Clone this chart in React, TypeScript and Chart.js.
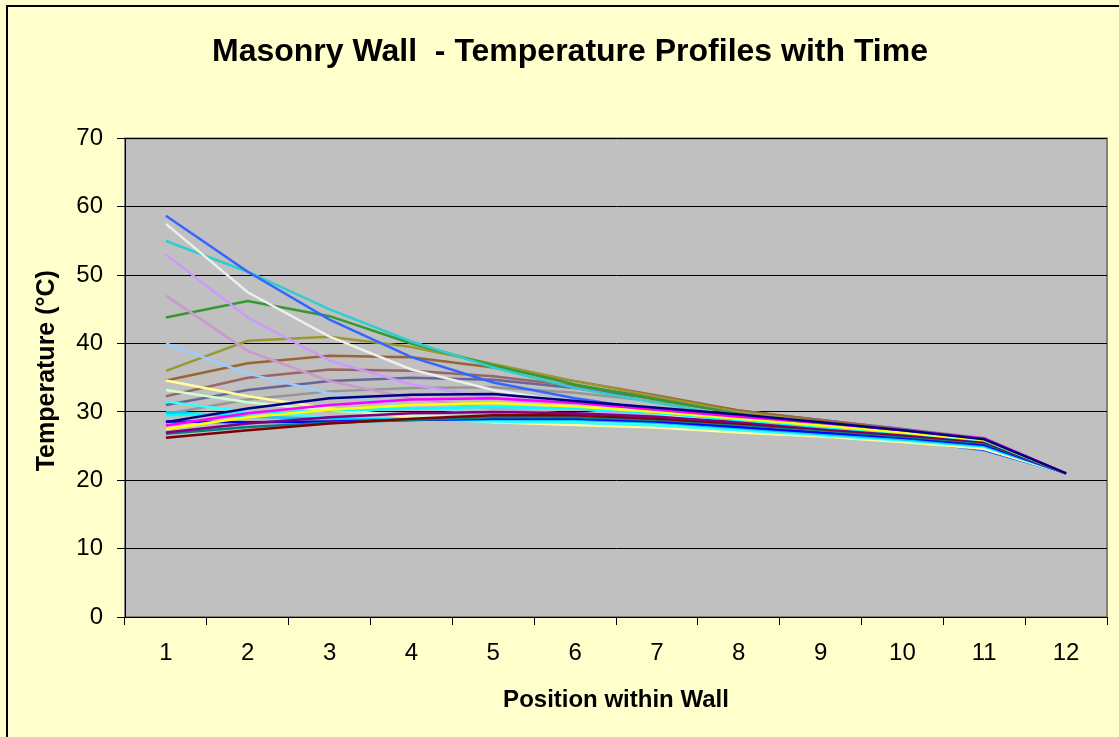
import React, { useEffect, useRef } from "react";
import { Chart, registerables } from "chart.js";

Chart.register(...registerables);

const positions = ["1", "2", "3", "4", "5", "6", "7", "8", "9", "10", "11", "12"];
const yTicks = [0, 10, 20, 30, 40, 50, 60, 70];

const navySeries = [28.5, 30.5, 32, 32.5, 32.6, 31.6, 30.6, 29.6, 28.5, 27.3, 26.0, 21];
const magentaSeries = [28, 29.8, 31, 31.8, 32, 31.3, 30.3, 29.3, 28.4, 27.3, 26.1, 21];
const yellowSeries = [27.5, 29.2, 30.3, 31, 31.3, 30.8, 30, 29, 28, 27, 25.9, 21];
const cyanSeries = [29.5, 29.8, 30.2, 30.5, 30.7, 30.5, 29.8, 28.8, 27.8, 26.9, 25.8, 21];
const purpleSeries = [27, 28.3, 29.2, 29.8, 30, 29.8, 29.3, 28.5, 27.6, 26.7, 25.7, 21];
const darkRedSeries = [26.2, 27.3, 28.3, 29, 29.5, 29.5, 29, 28.3, 27.5, 26.6, 25.6, 21];
const tealSeries = [26.8, 27.8, 28.4, 28.8, 29.2, 29.2, 28.8, 28.1, 27.3, 26.4, 25.4, 21];
const blueSeries = [28.6, 28.5, 28.6, 28.8, 29, 29, 28.6, 27.8, 27, 26.2, 25.2, 21];
const skySeries = [30, 29.3, 29, 28.9, 28.9, 28.8, 28.4, 27.6, 26.8, 26, 25, 21];
const aquaSeries = [31.5, 30, 29.2, 28.8, 28.6, 28.4, 28, 27.3, 26.6, 25.8, 24.9, 21];
const paleGreenSeries = [33.2, 31.4, 30.2, 29.5, 29, 28.7, 28.2, 27.5, 26.7, 25.9, 24.9, 21];
const lightYellowSeries = [34.6, 32.3, 30.5, 29.2, 28.5, 28.1, 27.7, 27.0, 26.4, 25.6, 24.6, 21];
const paleBlueSeries = [40, 35.6, 32.7, 30.8, 29.6, 28.8, 28.2, 27.3, 26.5, 25.7, 24.7, 21];
const plumSeries = [47, 38.9, 34.5, 32, 30.5, 29.6, 28.7, 27.7, 26.8, 25.9, 24.8, 21];
const lavenderSeries = [53, 43.8, 37.5, 34, 32, 30.5, 29.2, 28, 27, 26, 24.7, 21];
const whiteSeries = [57.5, 47.5, 41, 36.2, 33.2, 31.3, 29.8, 28.3, 27.1, 26, 24.6, 21];
const royalBlueSeries = [58.7, 50.5, 43.5, 38, 34.3, 32, 30.2, 28.6, 27.2, 25.9, 24.4, 21];
const turquoiseSeries = [55, 50.5, 45, 40.3, 36.5, 33.5, 31.3, 29.3, 27.8, 26.4, 24.8, 21];
const greenSeries = [43.8, 46.2, 44, 40, 36.8, 34, 31.8, 29.7, 28.1, 26.7, 25.1, 21];
const oliveSeries = [36, 40.4, 41, 39.5, 37, 34.5, 32.2, 30, 28.5, 27.1, 25.4, 21];
const brownSeries = [34.6, 37.1, 38.2, 38, 36.5, 34.5, 32.4, 30.2, 28.7, 27.3, 25.7, 21];
const mauveSeries = [32.3, 35, 36.2, 36, 35.2, 33.8, 32.1, 30.2, 28.8, 27.4, 25.9, 21];
const slateSeries = [31, 33.2, 34.5, 35, 34.7, 33.5, 31.9, 30.1, 28.8, 27.5, 26.0, 21];
const graySeries = [29.7, 31.8, 33, 33.5, 33.6, 32.8, 31.5, 30.0, 28.8, 27.5, 26.2, 21];

const seriesList = [
  { data: navySeries, color: "#000080" },
  { data: magentaSeries, color: "#FF00FF" },
  { data: yellowSeries, color: "#FFFF00" },
  { data: cyanSeries, color: "#00FFFF" },
  { data: purpleSeries, color: "#800080" },
  { data: darkRedSeries, color: "#800000" },
  { data: tealSeries, color: "#008080" },
  { data: blueSeries, color: "#0000FF" },
  { data: skySeries, color: "#00CCFF" },
  { data: aquaSeries, color: "#33FFFF" },
  { data: paleGreenSeries, color: "#CCFFCC" },
  { data: lightYellowSeries, color: "#FFFF99" },
  { data: paleBlueSeries, color: "#99CCFF" },
  { data: plumSeries, color: "#CC99CC" },
  { data: lavenderSeries, color: "#CC99FF" },
  { data: whiteSeries, color: "#EEEEEE" },
  { data: royalBlueSeries, color: "#3366FF" },
  { data: turquoiseSeries, color: "#33CCCC" },
  { data: greenSeries, color: "#339933" },
  { data: oliveSeries, color: "#999933" },
  { data: brownSeries, color: "#996633" },
  { data: mauveSeries, color: "#996666" },
  { data: slateSeries, color: "#666699" },
  { data: graySeries, color: "#969696" },
];

const yAxisTitle = "Temperature (°C)";
const FONT = "'Liberation Sans', Arial, Helvetica, sans-serif";

const plotBg = {
  id: "plotBg",
  beforeDraw(chart: any) {
    const { ctx, chartArea: a } = chart;
    ctx.save();
    ctx.fillStyle = "#C0C0C0";
    ctx.fillRect(a.left, a.top, a.right - a.left, a.bottom - a.top);
    ctx.strokeStyle = "#808080";
    ctx.lineWidth = 2;
    ctx.strokeRect(a.left, a.top, a.right - a.left, a.bottom - a.top);
    ctx.restore();
  },
  afterDraw(chart: any) {
    const { ctx, chartArea: a } = chart;
    ctx.save();
    ctx.translate(a.left - 78, (a.top + a.bottom) / 2 - 7);
    ctx.rotate(-Math.PI / 2);
    ctx.fillStyle = "#000";
    ctx.font = "bold 25px " + FONT;
    ctx.textAlign = "center";
    ctx.textBaseline = "middle";
    ctx.fillText(yAxisTitle, 0, 0);
    ctx.restore();
  },
};

export default function App() {
  const ref = useRef<HTMLCanvasElement | null>(null);

  useEffect(() => {
    if (!ref.current) return;
    const chart = new Chart(ref.current, {
      type: "line",
      data: {
        labels: positions,
        datasets: seriesList.map((s, i) => ({
          label: "Series " + (i + 1),
          data: s.data,
          borderColor: s.color,
          backgroundColor: s.color,
          borderWidth: 2.5,
          pointRadius: 0,
          tension: 0,
          fill: false,
        })),
      },
      options: {
        animation: false,
        responsive: false,
        maintainAspectRatio: false,
        layout: { padding: { left: 33, right: 12, top: 5, bottom: 0 } },
        plugins: {
          legend: { display: false },
          tooltip: { enabled: false },
          title: {
            display: true,
            text: "Masonry Wall  - Temperature Profiles with Time",
            color: "#000",
            font: { family: FONT, size: 32, weight: "bold" },
            padding: { top: 28, bottom: 67 },
          },
        },
        scales: {
          x: {
            type: "category",
            offset: true,
            grid: {
              display: true,
              offset: true,
              drawOnChartArea: false,
              drawTicks: true,
              tickLength: 8,
              tickColor: "#000",
              tickWidth: 1,
            },
            border: { display: true, color: "#000", width: 1 },
            ticks: {
              color: "#000",
              font: { family: FONT, size: 24 },
              padding: 14,
              maxRotation: 0,
              autoSkip: false,
            },
            title: {
              display: true,
              text: "Position within Wall",
              color: "#000",
              font: { family: FONT, size: 24, weight: "bold" },
              padding: { top: 0, bottom: 22 },
            },
            afterFit(scale: any) {
              scale.height = 120;
            },
          },
          y: {
            min: 0,
            max: 70,
            afterBuildTicks(scale: any) {
              scale.ticks = yTicks.map((v) => ({ value: v }));
            },
            grid: {
              display: true,
              color: "#000",
              lineWidth: 1,
              drawTicks: true,
              tickLength: 8,
              tickColor: "#000",
            },
            border: { display: true, color: "#000", width: 1 },
            ticks: {
              color: "#000",
              font: { family: FONT, size: 24 },
              padding: 14,
            },
            title: { display: false },
            afterFit(scale: any) {
              scale.width = 92;
            },
          },
        },
      },
      plugins: [plotBg],
    } as any);
    return () => chart.destroy();
  }, []);

  return (
    <div
      style={{
        position: "absolute",
        left: 0,
        top: 0,
        width: 1119,
        height: 737,
        overflow: "hidden",
        background: "#FFFFCC",
      }}
    >
      <div
        style={{
          position: "absolute",
          left: 6,
          top: 5,
          width: 1300,
          height: 900,
          border: "2px solid #000",
          boxSizing: "border-box",
        }}
      />
      <canvas
        ref={ref}
        width={1119}
        height={737}
        style={{ position: "absolute", left: 0, top: 0, width: 1119, height: 737 }}
      />
    </div>
  );
}
